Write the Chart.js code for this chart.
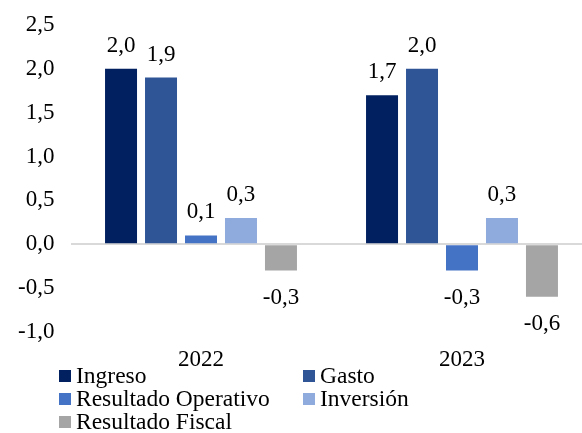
<!DOCTYPE html>
<html><head><meta charset="utf-8">
<script src="https://cdn.jsdelivr.net/npm/chart.js@4"></script>
<style>
html,body{margin:0;padding:0;background:#fff;overflow:hidden;width:582px;height:433px;}
#wrap{position:absolute;left:0;top:0;width:600px;height:433px;}
#legend{position:absolute;left:0;top:0;width:582px;height:433px;pointer-events:none;font-family:"Liberation Serif","Times New Roman",serif;font-size:23.5px;color:#000;}
.li{position:absolute;white-space:nowrap;line-height:23px;height:23px;}
.li span.b{position:absolute;left:0;top:6px;width:12px;height:12px;}
.li span.t{position:absolute;left:17px;top:0;}
</style></head>
<body>
<div id="wrap"><canvas id="c" width="600" height="433"></canvas></div>
<div id="legend"></div>
<script>
const categories = ["2022", "2023"];
const seriesNames = ["Ingreso", "Gasto", "Resultado Operativo", "Inversión", "Resultado Fiscal"];
const ingreso = [2.0, 1.7];
const gasto = [1.9, 2.0];
const resultadoOperativo = [0.1, -0.3];
const inversion = [0.3, 0.3];
const resultadoFiscal = [-0.3, -0.6];
const yTicks = [-1.0, -0.5, 0.0, 0.5, 1.0, 1.5, 2.0, 2.5];
const colors = ["#002060", "#2F5597", "#4472C4", "#8FAADC", "#A5A5A5"];
const seriesValues = [ingreso, gasto, resultadoOperativo, inversion, resultadoFiscal];

const fmt = v => v.toFixed(1).replace('.', ',');
const FONT = '"Liberation Serif", "Times New Roman", serif';

const labelPlugin = {
  id: 'valueLabels',
  afterDatasetsDraw(chart) {
    const ctx = chart.ctx;
    ctx.save();
    ctx.font = '23px ' + FONT;
    ctx.fillStyle = '#000';
    ctx.textAlign = 'center';
    ctx.textBaseline = 'middle';
    chart.data.datasets.forEach((ds, i) => {
      const meta = chart.getDatasetMeta(i);
      meta.data.forEach((bar, j) => {
        const v = ds.data[j];
        const y = v >= 0 ? bar.y - 23 : bar.y + 27;
        ctx.fillText(fmt(v), bar.x, y);
      });
    });
    ctx.restore();
  }
};

new Chart(document.getElementById('c'), {
  type: 'bar',
  data: {
    labels: categories,
    datasets: seriesNames.map((n, i) => ({
      label: n,
      data: seriesValues[i],
      backgroundColor: colors[i],
      barPercentage: 0.8,
      categoryPercentage: 0.766
    }))
  },
  options: {
    responsive: false,
    animation: false,
    events: [],
    layout: { padding: { top: 25, right: 7.5, left: 0, bottom: 53.5 } },
    plugins: { legend: { display: false }, tooltip: { enabled: false } },
    scales: {
      x: {
        grid: { display: false },
        border: { display: false },
        ticks: { color: '#000', font: { family: FONT, size: 23 }, padding: 6 }
      },
      y: {
        min: -1, max: 2.5,
        afterBuildTicks: s => { s.ticks = yTicks.map(v => ({ value: v })); },
        afterFit: s => { s.width = 70.5; s.paddingTop = 0; s.paddingBottom = 0; },
        border: { display: false },
        grid: {
          drawTicks: false,
          color: c => (c.tick && c.tick.value === 0) ? '#D9D9D9' : 'rgba(0,0,0,0)',
          lineWidth: 2
        },
        ticks: { color: '#000', font: { family: FONT, size: 23 }, padding: 16, callback: v => fmt(v) }
      }
    }
  },
  plugins: [labelPlugin]
});

const lg = document.getElementById('legend');
const pos = [[59, 364], [303, 364], [59, 387], [303, 387], [59, 410]];
seriesNames.forEach((n, i) => {
  const d = document.createElement('div');
  d.className = 'li';
  d.style.left = pos[i][0] + 'px';
  d.style.top = pos[i][1] + 'px';
  d.innerHTML = '<span class="b" style="background:' + colors[i] + '"></span><span class="t">' + n + '</span>';
  lg.appendChild(d);
});
</script>
</body></html>
